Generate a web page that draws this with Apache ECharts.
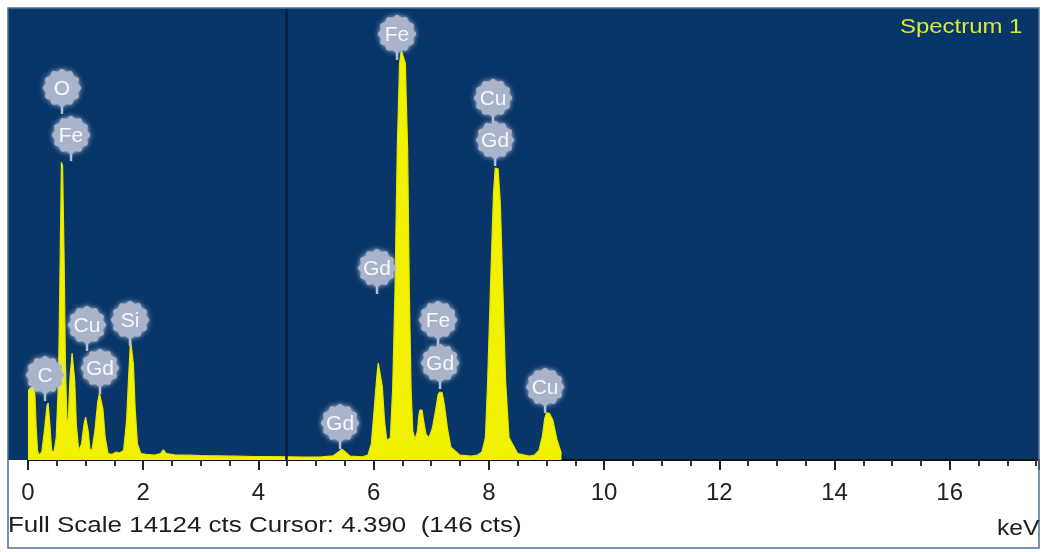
<!DOCTYPE html>
<html><head><meta charset="utf-8">
<script src="https://cdn.jsdelivr.net/npm/echarts@6/dist/echarts.min.js"></script>
<style>html,body{margin:0;padding:0;background:#fff}#c{width:1044px;height:552px}</style>
</head><body><div id="c"></div>
<script>
// ---- data ----
const spectrumKeV = [0.00,0.04,0.09,0.12,0.14,0.165,0.19,0.24,0.29,0.33,0.35,0.38,0.41,0.45,0.49,0.53,0.56,0.58,0.60,0.625,0.65,0.675,0.70,0.73,0.765,0.785,0.81,0.84,0.88,0.93,0.97,1.0,1.015,1.045,1.075,1.11,1.16,1.21,1.24,1.26,1.30,1.34,1.39,1.46,1.53,1.59,1.66,1.71,1.75,1.78,1.80,1.83,1.86,1.90,1.96,2.05,2.2,2.3,2.35,2.4,2.55,2.8,3.0,3.3,3.6,3.9,4.2,4.5,4.8,5.1,5.3,5.39,5.45,5.51,5.59,5.8,5.9,5.96,6.01,6.06,6.08,6.11,6.15,6.19,6.23,6.29,6.33,6.37,6.41,6.45,6.48,6.51,6.55,6.59,6.62,6.65,6.68,6.72,6.76,6.785,6.805,6.84,6.87,6.91,6.96,7.02,7.08,7.12,7.15,7.19,7.23,7.28,7.34,7.5,7.7,7.8,7.88,7.94,7.98,8.03,8.08,8.11,8.16,8.20,8.24,8.29,8.35,8.5,8.7,8.79,8.87,8.93,8.97,9.0,9.05,9.11,9.18,9.26];
const spectrumCounts = [2150,2250,2280,2050,1100,300,150,250,1000,1700,1780,1100,300,250,700,2500,6500,9300,9200,6500,3000,1200,1300,2600,3340,3300,2500,1100,300,500,1100,1340,1340,900,350,300,900,1800,2090,2090,1600,700,200,180,250,220,300,1200,2700,3750,3700,3000,1600,500,200,180,150,200,320,200,160,150,140,130,120,110,110,100,90,100,130,250,340,250,120,100,150,500,1600,2700,3030,3000,2300,1200,600,700,2200,5200,9700,12400,12800,12800,12400,9700,5200,2200,900,650,900,1400,1560,1560,1200,800,700,1000,1600,2050,2125,2100,1700,1000,400,150,120,150,250,700,2500,5500,8300,9125,9100,8000,5500,2500,700,200,120,150,300,750,1300,1470,1460,1250,650,200,0];

const peakLabelText   = ['O','Fe','C','Cu','Gd','Si','Fe','Cu','Gd','Gd','Fe','Gd','Cu','Gd'];
const peakLabelKeV    = [0.590,0.747,0.295,1.024,1.250,1.771,6.406,8.073,8.108,6.059,7.118,7.153,8.976,5.417];
const peakLabelCounts = [11625,10156,2656,4219,2875,4375,13313,11313,10000,5999,4375,3031,2281,1156];

const xTickLabels = ['0','2','4','6','8','10','12','14','16'];
const fullScaleCts = 14124;
const cursorLineKeV = 4.48;
const footerText = 'Full Scale 14124 cts Cursor: 4.390  (146 cts)';
const unitText = 'keV';
const titleText = 'Spectrum 1';

// ---- chart ----
const BG = '#093669';
const YEL = '#f2f200';
const FONT = 'Liberation Sans, Arial, sans-serif';
const chart = echarts.init(document.getElementById('c'), null, {renderer: 'canvas'});

function bubblePoints(cx, cy, r) {
  const pts = [];
  const n = 72;
  for (let i = 0; i < n; i++) {
    const t = (Math.PI * 2 * i) / n;
    const rr = r + 1.2 * Math.cos(12 * t);
    pts.push([cx + rr * Math.cos(t), cy + rr * Math.sin(t)]);
  }
  return pts;
}

const option = {
  animation: false,
  backgroundColor: '#ffffff',
  grid: { left: 28, right: 5, top: 8, bottom: 92, show: true, backgroundColor: BG, borderWidth: 0 },
  xAxis: {
    type: 'value', min: 0, max: 17.55, interval: 2,
    axisLine: { show: true, lineStyle: { color: '#111', width: 2 } },
    axisTick: { show: true, length: 10, lineStyle: { color: '#222', width: 2 } },
    minorTick: { show: true, splitNumber: 4, length: 6, lineStyle: { color: '#333', width: 2 } },
    splitLine: { show: false },
    axisLabel: {
      margin: 21, fontSize: 24, color: '#222', fontFamily: FONT,
      formatter: v => { const i = Math.round(v / 2); return (Math.abs(v - i * 2) < 1e-6 && xTickLabels[i] !== undefined) ? xTickLabels[i] : ''; }
    }
  },
  yAxis: { type: 'value', min: 0, max: fullScaleCts, show: false, splitLine: { show: false } },
  series: [
    {
      type: 'line', z: 2,
      data: spectrumKeV.map((e, i) => [e, spectrumCounts[i]]),
      showSymbol: false, symbol: 'none', smooth: false,
      lineStyle: { color: '#e6e600', width: 1.2 },
      areaStyle: { color: YEL, opacity: 1 },
      markLine: {
        silent: true, symbol: ['none', 'none'], label: { show: false },
        lineStyle: { color: '#06223f', width: 2.5, type: 'solid' },
        data: [{ xAxis: cursorLineKeV }]
      }
    },
    {
      type: 'custom', z: 5, clip: false,
      data: peakLabelKeV.map((e, i) => [e, peakLabelCounts[i]]),
      renderItem: (params, api) => {
        const p = api.coord([api.value(0), api.value(1)]);
        const r = 18;
        const txt = peakLabelText[params.dataIndex];
        return {
          type: 'group',
          children: [
            { type: 'line', shape: { x1: p[0], y1: p[1], x2: p[0], y2: p[1] + r + 8 },
              style: { stroke: '#b3bed2', lineWidth: 2.5 } },
            { type: 'polygon', shape: { points: bubblePoints(p[0], p[1], r) },
              style: { fill: '#a9b4ca', shadowBlur: 5, shadowColor: 'rgba(196,206,226,0.95)' } },
            { type: 'text', x: p[0], y: p[1] + 1,
              style: { text: txt, fill: '#f5f7fb', fontSize: 21, fontFamily: FONT,
                       align: 'center', verticalAlign: 'middle' } }
          ]
        };
      }
    }
  ],
  graphic: [
    { type: 'rect', shape: { x: 8, y: 8, width: 21, height: 452 }, style: { fill: BG }, z: -1, silent: true },
    { type: 'rect', shape: { x: 8, y: 8, width: 1031, height: 540 }, style: { fill: 'none', stroke: '#4d6f98', lineWidth: 1.5 }, z: 10, silent: true },
    { type: 'text', x: 8, y: 526, scaleX: 1.18, originX: 0, originY: 0, z: 10,
      style: { text: footerText, fontSize: 22, fill: '#1c1c1c', fontFamily: FONT, verticalAlign: 'middle', align: 'left' } },
    { type: 'text', x: 997, y: 529, scaleX: 1.12, originX: 0, originY: 0, z: 10,
      style: { text: unitText, fontSize: 22, fill: '#1c1c1c', fontFamily: FONT, verticalAlign: 'middle', align: 'left' } },
    { type: 'text', x: 900, y: 27, scaleX: 1.14, originX: 0, originY: 0, z: 10,
      style: { text: titleText, fontSize: 21, fill: '#d6ea3a', fontFamily: FONT, verticalAlign: 'middle', align: 'left' } }
  ]
};
chart.setOption(option);
</script>
</body></html>
